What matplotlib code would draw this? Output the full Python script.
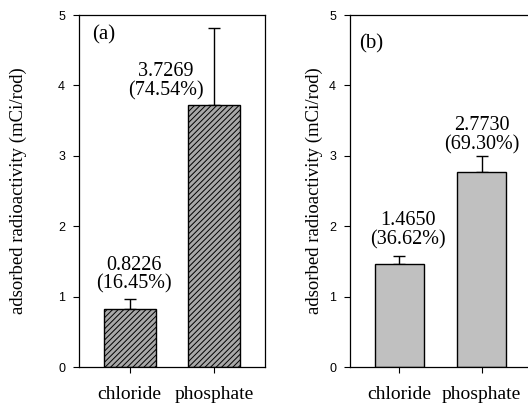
import numpy as np
import matplotlib.pyplot as plt

# data
categories = ["chloride", "phosphate"]
values_a = [0.8226, 3.7269]
errors_a = [0.15, 1.09]
labels_a = ["0.8226\n(16.45%)", "3.7269\n(74.54%)"]
values_b = [1.4650, 2.7730]
errors_b = [0.105, 0.227]
labels_b = ["1.4650\n(36.62%)", "2.7730\n(69.30%)"]

serif = "Liberation Serif"
sans = "Liberation Sans"
plt.rcParams["hatch.color"] = "#3a3a3a"
plt.rcParams["hatch.linewidth"] = 0.7

fig = plt.figure(figsize=(5.28, 4.05), dpi=100)
W, H = 528, 405


def make_axes(left, right, top=15, bottom=367):
    return fig.add_axes([left / W, 1 - bottom / H, (right - left) / W, (bottom - top) / H])


ax_a = make_axes(79, 265)
ax_b = make_axes(350, 531)

x = np.arange(len(categories))


def draw_panel(ax, values, errors, labels, tag, tag_pos, label_pos, ylab_x, width, **bar_kw):
    zeros = [0] * len(errors)
    ax.bar(x, values, width=width, edgecolor="black", linewidth=1.0, zorder=2, **bar_kw)
    ax.errorbar(x, values, yerr=[zeros, errors], fmt="none", ecolor="black",
                elinewidth=1.0, capsize=4, capthick=1.0, zorder=1)
    ax.set_xlim(-0.6, 1.6)
    ax.set_ylim(0, 5)
    ax.set_yticks([0, 1, 2, 3, 4, 5])
    ax.set_xticks(x)
    ax.set_xticklabels(categories, family=serif, fontsize=14)
    for t in ax.get_yticklabels():
        t.set_family(sans)
        t.set_fontsize(9)
    ax.tick_params(axis="both", direction="out", length=4, width=0.8)
    ax.tick_params(axis="x", pad=10)
    ax.tick_params(axis="y", pad=6)
    ax.set_ylabel("adsorbed radioactivity (mCi/rod)", family=serif, fontsize=13.5)
    ax.yaxis.set_label_coords(ylab_x, 0.5)
    for sp in ax.spines.values():
        sp.set_linewidth(0.9)
    ax.text(tag_pos[0], tag_pos[1], tag, family=serif, fontsize=15, ha="left", va="center")
    for (px, py), lab in zip(label_pos, labels):
        ax.text(px, py, lab, family=serif, fontsize=14.5, ha="center", va="center",
                linespacing=1.0)


draw_panel(ax_a, values_a, errors_a, labels_a, "(a)", (-0.45, 4.72),
           [(0.05, 1.31), (0.43, 4.06)], -0.28, width=0.62,
           color="#a8a8a8", hatch="//////")
draw_panel(ax_b, values_b, errors_b, labels_b, "(b)", (-0.49, 4.59),
           [(0.1, 1.94), (1.0, 3.29)], -0.15, width=0.6, color="#c0c0c0")

fig.savefig("out.png", dpi=100)
